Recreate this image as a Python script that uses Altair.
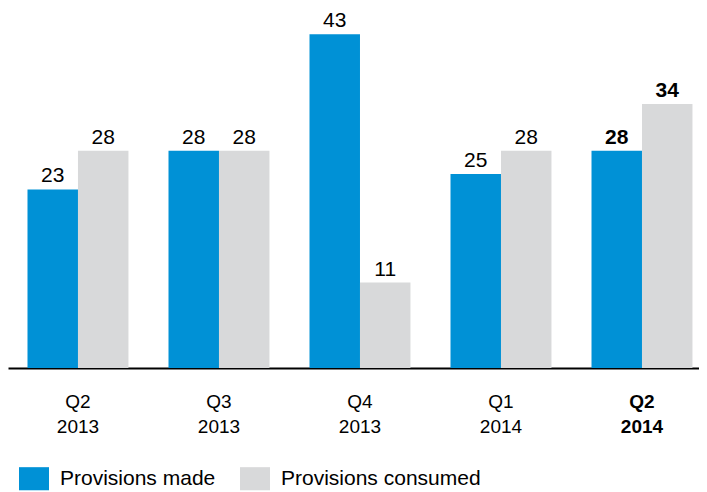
import altair as alt
import pandas as pd

quarters = ["Q2 2013", "Q3 2013", "Q4 2013", "Q1 2014", "Q2 2014"]
series = ["Provisions made", "Provisions consumed"]
made = [23, 28, 43, 25, 28]
consumed = [28, 28, 11, 28, 34]
highlight = "Q2 2014"

BLUE = "#0091D6"
GREY = "#D8D9DA"
FONT = "Liberation Sans"

rows = []
for q, m, c in zip(quarters, made, consumed):
    rows.append({"quarter": q, "series": series[0], "value": m})
    rows.append({"quarter": q, "series": series[1], "value": c})
df = pd.DataFrame(rows)

x = alt.X(
    "quarter:N",
    sort=quarters,
    scale=alt.Scale(domain=quarters, paddingInner=0.284, paddingOuter=0.0923, align=0.749),
    axis=alt.Axis(
        title=None,
        labelExpr="split(datum.label, ' ')",
        labelFont=FONT,
        labelFontSize=19,
        labelColor="black",
        labelAngle=0,
        labelBaseline="top",
        labelPadding=24,
        labelLineHeight=25,
        labelFontWeight={"condition": {"test": f"datum.value == '{highlight}'", "value": "bold"}, "value": "normal"},
        ticks=False,
        grid=False,
        domainColor="black",
        domainWidth=2,
    ),
)
xoff = alt.XOffset("series:N", sort=series, scale=alt.Scale(domain=series, paddingInner=0, paddingOuter=0))
y = alt.Y("value:Q", scale=alt.Scale(domain=[0, 45.6], nice=False), axis=None)

color = alt.Color(
    "series:N",
    sort=series,
    scale=alt.Scale(domain=series, range=[BLUE, GREY]),
    legend=alt.Legend(
        title=None,
        orient="none",
        legendX=11,
        legendY=449.5,
        direction="horizontal",
        symbolType="M-1,-0.77H1V0.77H-1Z",
        symbolSize=900,
        symbolStrokeWidth=0,
        labelFont=FONT,
        labelFontSize=21,
        labelColor="black",
        labelOffset=11,
        labelLimit=0,
        columnPadding=24,
        padding=0,
    ),
)

base = alt.Chart(df).encode(x=x, xOffset=xoff, y=y)
bars = base.mark_bar().encode(color=color)
labels = base.transform_filter(alt.datum.quarter != highlight).mark_text(
    baseline="alphabetic", dy=-7, font=FONT, fontSize=21, color="black"
).encode(text="value:Q")
labels_bold = base.transform_filter(alt.datum.quarter == highlight).mark_text(
    baseline="alphabetic", dy=-7, font=FONT, fontSize=21, fontWeight="bold", color="black"
).encode(text="value:Q")

chart = (
    alt.layer(bars, labels, labels_bold)
    .properties(
        width=691,
        height=354,
        autosize=alt.AutoSizeParams(type="none"),
        padding={"left": 0, "top": 6, "right": 0, "bottom": 124},
    )
    .configure_view(stroke=None)
)

chart.save("out.html", embed_options={"renderer": "svg", "actions": False})
